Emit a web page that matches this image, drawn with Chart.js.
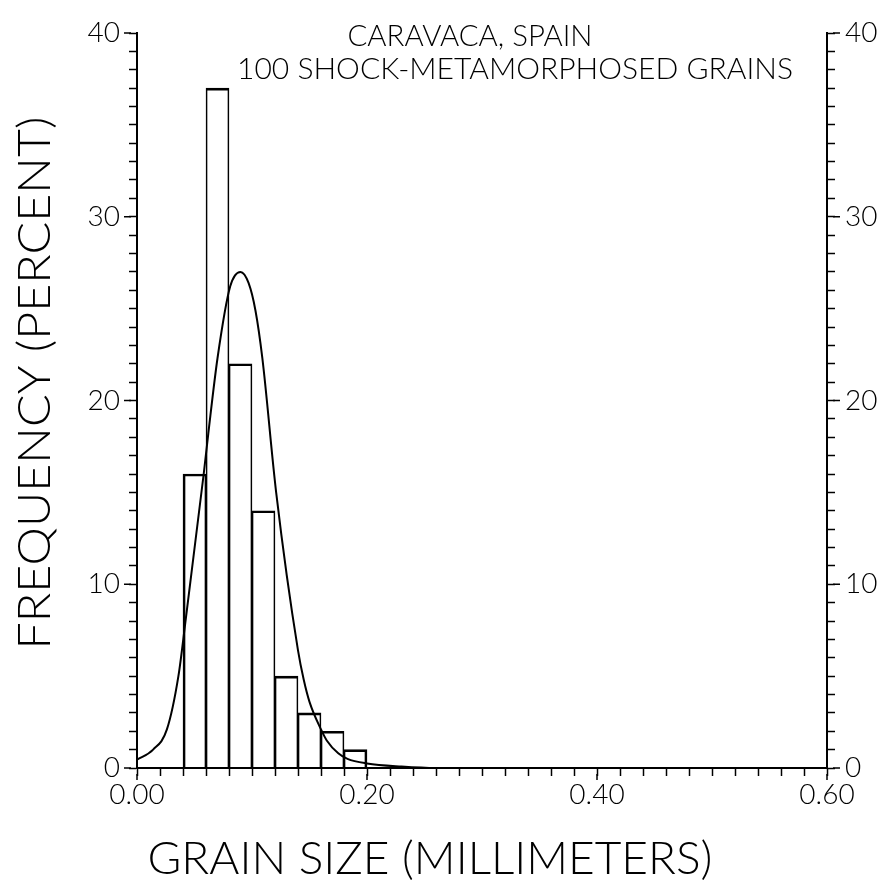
<!DOCTYPE html>
<html lang="en">
<head>
  <meta charset="UTF-8" />
  <title>Caravaca grain size histogram</title>
  <script src="https://cdn.jsdelivr.net/npm/chart.js"></script>
  <style>
    html, body { margin: 0; padding: 0; background: #fff; }
  </style>
</head>
<body>
<canvas id="grainChart" width="880" height="884"></canvas>

<script>
  // histogram bins (0.02 mm wide), centre of each bin
  const binCenters = [0.05, 0.07, 0.09, 0.11, 0.13, 0.15, 0.17, 0.19];
  const binPercents = [16, 37, 22, 14, 5, 3, 2, 1];

  // fitted curve
  const curveX = [0, 0.014, 0.026, 0.036, 0.042, 0.058, 0.062, 0.070, 0.081, 0.090, 0.097, 0.103,
                  0.109, 0.121, 0.140, 0.145, 0.150, 0.160, 0.165, 0.175, 0.183, 0.200, 0.230, 0.260, 0.600];
  const curveY = [0.45, 1.0, 2.1, 5.0, 7.9, 16.0, 18.2, 22.3, 26.2, 27.0, 26.4, 24.9,
                  22.3, 15.0, 6.4, 4.8, 3.6, 2.1, 1.5, 0.8, 0.5, 0.25, 0.08, 0, 0];

  const xTickLabels = ['0.00', '0.20', '0.40', '0.60'];
  const yTickLabels = ['0', '10', '20', '30', '40'];
  const titleLines = ['CARAVACA, SPAIN', '100 SHOCK-METAMORPHOSED GRAINS'];
  const xTitle = 'GRAIN SIZE (MILLIMETERS)';
  const yTitle = 'FREQUENCY (PERCENT)';

  const xMajor = xTickLabels.map(Number);
  const yMajor = yTickLabels.map(Number);
  const tickFont = { family: 'Lato, "DejaVu Sans"', size: 28, weight: 300 };
  const bigFont = '300 45px Lato, "DejaVu Sans"';
  const smallFont = '300 30px Lato, "DejaVu Sans"';

  function xLabel(v) {
    const h = Math.round(v * 100);
    return h % 20 === 0 ? xTickLabels[h / 20] : '';
  }
  function yLabel(v) {
    return v % 10 === 0 ? yTickLabels[v / 10] : '';
  }

  // squeeze/stretch a string to a given width
  function fitText(ctx, text, cx, baseline, width, font, angle) {
    ctx.save();
    ctx.font = font;
    const w = ctx.measureText(text).width;
    ctx.translate(cx, baseline);
    if (angle) ctx.rotate(angle);
    ctx.scale(width / w, 1);
    ctx.textAlign = 'center';
    ctx.textBaseline = 'alphabetic';
    ctx.fillStyle = '#000';
    ctx.fillText(text, 0, 0);
    ctx.restore();
  }

  const majorTicks = {
    id: 'majorTicks',
    afterDraw(chart) {
      const { ctx, chartArea: a, scales } = chart;
      ctx.save();
      ctx.strokeStyle = '#000';
      ctx.lineWidth = 1.5;
      ctx.beginPath();
      xMajor.forEach(v => {
        const px = scales.x.getPixelForValue(v);
        ctx.moveTo(px, a.bottom + 6);
        ctx.lineTo(px, a.bottom + 12);
      });
      yMajor.forEach(v => {
        const py = scales.y.getPixelForValue(v);
        ctx.moveTo(a.left - 6, py);
        ctx.lineTo(a.left - 13, py);
        ctx.moveTo(a.right + 6, py);
        ctx.lineTo(a.right + 13, py);
      });
      ctx.stroke();
      ctx.restore();
    }
  };

  const textLayer = {
    id: 'textLayer',
    afterDraw(chart) {
      const ctx = chart.ctx;
      fitText(ctx, titleLines[0], 470, 46, 245, smallFont);
      fitText(ctx, titleLines[1], 515, 79, 556, smallFont);
      fitText(ctx, xTitle, 430, 874, 565, bigFont);
      fitText(ctx, yTitle, 50, 383, 533, bigFont, -Math.PI / 2);
    }
  };

  const axisLine = { color: '#000', width: 2 };
  const tickGrid = { drawOnChartArea: false, tickLength: 8, tickWidth: 1.5, tickColor: '#000' };

  new Chart(document.getElementById('grainChart'), {
    data: {
      datasets: [
        {
          type: 'line',
          data: curveX.map((x, i) => ({ x, y: curveY[i] })),
          borderColor: '#000',
          borderWidth: 2,
          pointRadius: 0,
          fill: false,
          cubicInterpolationMode: 'monotone',
          clip: 4
        },
        {
          type: 'bar',
          data: binCenters.map((x, i) => ({ x, y: binPercents[i] })),
          backgroundColor: 'rgba(0,0,0,0)',
          borderColor: '#000',
          borderWidth: c => ({
            top: 2,
            bottom: 0,
            left: c.dataIndex === 0 ? 2 : 1,
            right: c.dataIndex === binPercents.length - 1 ? 2 : 1
          }),
          borderSkipped: 'start',
          barPercentage: 1,
          categoryPercentage: 1,
          grouped: false
        }
      ]
    },
    options: {
      responsive: false,
      animation: false,
      layout: { padding: { top: 33, left: 0, right: 0, bottom: 0 } },
      plugins: { legend: { display: false }, tooltip: { enabled: false } },
      scales: {
        x: {
          type: 'linear', min: 0, max: 0.6, offset: false,
          afterFit: s => { s.height = 116; },
          ticks: {
            stepSize: 0.02, autoSkip: false, maxRotation: 0, minRotation: 0,
            padding: 2, color: '#000', font: tickFont, callback: xLabel
          },
          grid: { ...tickGrid, offset: false },
          border: axisLine
        },
        y: {
          type: 'linear', position: 'left', min: 0, max: 40,
          afterFit: s => { s.width = 137; },
          ticks: { stepSize: 1, autoSkip: false, padding: 9, color: '#000', font: tickFont, callback: yLabel },
          grid: tickGrid,
          border: axisLine
        },
        y2: {
          type: 'linear', position: 'right', min: 0, max: 40,
          afterFit: s => { s.width = 53; },
          ticks: { stepSize: 1, autoSkip: false, padding: 10, color: '#000', font: tickFont, callback: yLabel },
          grid: tickGrid,
          border: axisLine
        }
      }
    },
    plugins: [majorTicks, textLayer]
  });
</script>
</body>
</html>
